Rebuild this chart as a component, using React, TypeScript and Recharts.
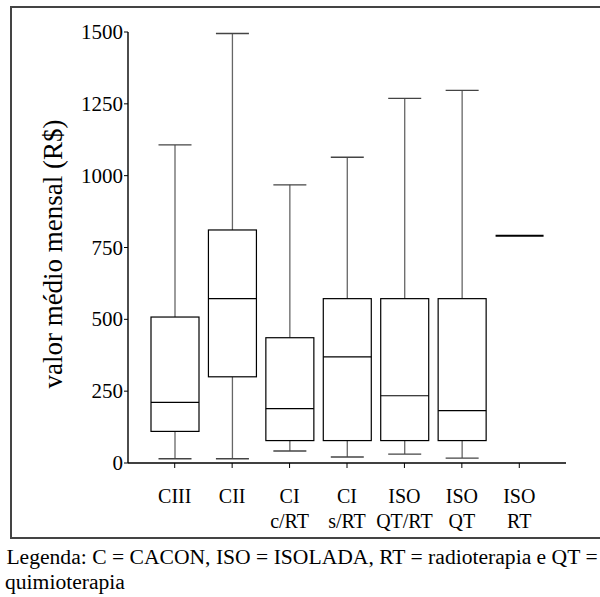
import React from "react";
import { ComposedChart, Bar, XAxis, YAxis } from "recharts";

const categoriesTop = ["CIII", "CII", "CI", "CI", "ISO", "ISO", "ISO"];
const categoriesBottom = ["", "", "c/RT", "s/RT", "QT/RT", "QT", "RT"];
const minValues = [15, 15, 42, 21, 31, 17, 791];
const q1Values = [110, 300, 78, 78, 78, 78, 791];
const medianValues = [211, 572, 189, 369, 234, 182, 791];
const q3Values = [508, 811, 436, 572, 572, 572, 791];
const maxValues = [1107, 1495, 968, 1064, 1269, 1297, 791];
const yTicks = [0, 250, 500, 750, 1000, 1250, 1500];
const yLabel = "valor médio mensal (R$)";
const legendLine1 = " Legenda: C = CACON, ISO = ISOLADA, RT = radioterapia e QT =";
const legendLine2 = "quimioterapia";

const data = categoriesTop.map((c, i) => ({
  name: c + "|" + categoriesBottom[i],
  min: minValues[i],
  q1: q1Values[i],
  median: medianValues[i],
  q3: q3Values[i],
  max: maxValues[i],
  range: [minValues[i], maxValues[i]],
}));

const FONT = "Liberation Serif";

const BoxShape = (props: any) => {
  const { x, y, width, height, payload } = props;
  const top = Math.min(y, y + height);
  const bottom = Math.max(y, y + height);
  const { min, q1, median, q3, max } = payload;
  const span = max - min;
  const cx = x + width / 2;
  if (span === 0) {
    return <line x1={x} x2={x + width} y1={top} y2={top} stroke="#000" strokeWidth={2} />;
  }
  const py = (v: number) => bottom - ((bottom - top) * (v - min)) / span;
  const capHalf = 16.5;
  return (
    <g>
      <line x1={cx} x2={cx} y1={py(max)} y2={py(q3)} stroke="#666" strokeWidth={1.3} />
      <line x1={cx} x2={cx} y1={py(q1)} y2={py(min)} stroke="#666" strokeWidth={1.3} />
      <line x1={cx - capHalf} x2={cx + capHalf} y1={py(max)} y2={py(max)} stroke="#444" strokeWidth={1.4} />
      <line x1={cx - capHalf} x2={cx + capHalf} y1={py(min)} y2={py(min)} stroke="#444" strokeWidth={1.4} />
      <rect x={x} y={py(q3)} width={width} height={py(q1) - py(q3)} fill="#fff" stroke="#000" strokeWidth={1.2} />
      <line x1={x} x2={x + width} y1={py(median)} y2={py(median)} stroke="#000" strokeWidth={1.2} />
    </g>
  );
};

const XTick = (props: any) => {
  const { x, payload } = props;
  const [a, b] = String(payload.value).split("|");
  return (
    <g>
      <text x={x} y={503} textAnchor="middle" fontSize={20} style={{ fontFamily: FONT }} fill="#000">{a}</text>
      {b ? (
        <text x={x} y={528} textAnchor="middle" fontSize={20} style={{ fontFamily: FONT }} fill="#000">{b}</text>
      ) : null}
    </g>
  );
};

const YTick = (props: any) => {
  const { y, payload } = props;
  return (
    <text x={123} y={y} dy={7} textAnchor="end" fontSize={21} style={{ fontFamily: FONT }} fill="#000">
      {payload.value}
    </text>
  );
};

export default function App() {
  return (
    <div style={{ position: "absolute", left: 0, top: 0, width: 600, height: 597, background: "#fff", overflow: "hidden", fontFamily: FONT }}>
      <div
        style={{
          position: "absolute",
          left: 10,
          top: 6,
          width: 620,
          height: 529,
          border: "2px solid #444",
          borderRight: "none",
        }}
      />
      <div style={{ position: "absolute", left: 0, top: 0 }}>
        <ComposedChart
          width={600}
          height={540}
          data={data}
          margin={{ top: 32, right: 34, left: 0, bottom: 17 }}
        >
          <XAxis
            dataKey="name"
            xAxisId="b"
            height={60}
            padding={{ left: 18, right: 18 }}
            tickSize={5}
            tick={<XTick />}
            axisLine={{ stroke: "#000", strokeWidth: 1.4 }}
            tickLine={{ stroke: "#000" }}
            interval={0}
          />
          <XAxis
            dataKey="name"
            xAxisId="t"
            orientation="top"
            height={0}
            tick={false}
            tickLine={false}
            axisLine={{ stroke: "#000", strokeWidth: 1.4 }}
          />
          <YAxis
            yAxisId="l"
            width={128}
            domain={[0, 1500]}
            ticks={yTicks}
            tickSize={4}
            interval={0}
            tick={<YTick />}
            axisLine={{ stroke: "#000", strokeWidth: 1.4 }}
            tickLine={{ stroke: "#000" }}
          />
          <YAxis
            yAxisId="r"
            orientation="right"
            width={0}
            domain={[0, 1500]}
            tick={false}
            tickLine={false}
            axisLine={{ stroke: "#000", strokeWidth: 1.4 }}
          />
          <Bar
            dataKey="range"
            xAxisId="b"
            yAxisId="l"
            barSize={48}
            shape={<BoxShape />}
            isAnimationActive={false}
          />
        </ComposedChart>
      </div>
      <svg width={600} height={597} style={{ position: "absolute", left: 0, top: 0, pointerEvents: "none" }}>
        <text
          x={0}
          y={0}
          transform="translate(62, 254) rotate(-90)"
          textAnchor="middle"
          fontSize={27}
          style={{ fontFamily: FONT }}
          fill="#000"
        >
          {yLabel}
        </text>
        <text x={1} y={564} fontSize={21.6} style={{ fontFamily: FONT, whiteSpace: "pre" }} fill="#000">
          {legendLine1}
        </text>
        <text x={5} y={589} fontSize={21.6} style={{ fontFamily: FONT }} fill="#000">
          {legendLine2}
        </text>
      </svg>
    </div>
  );
}
